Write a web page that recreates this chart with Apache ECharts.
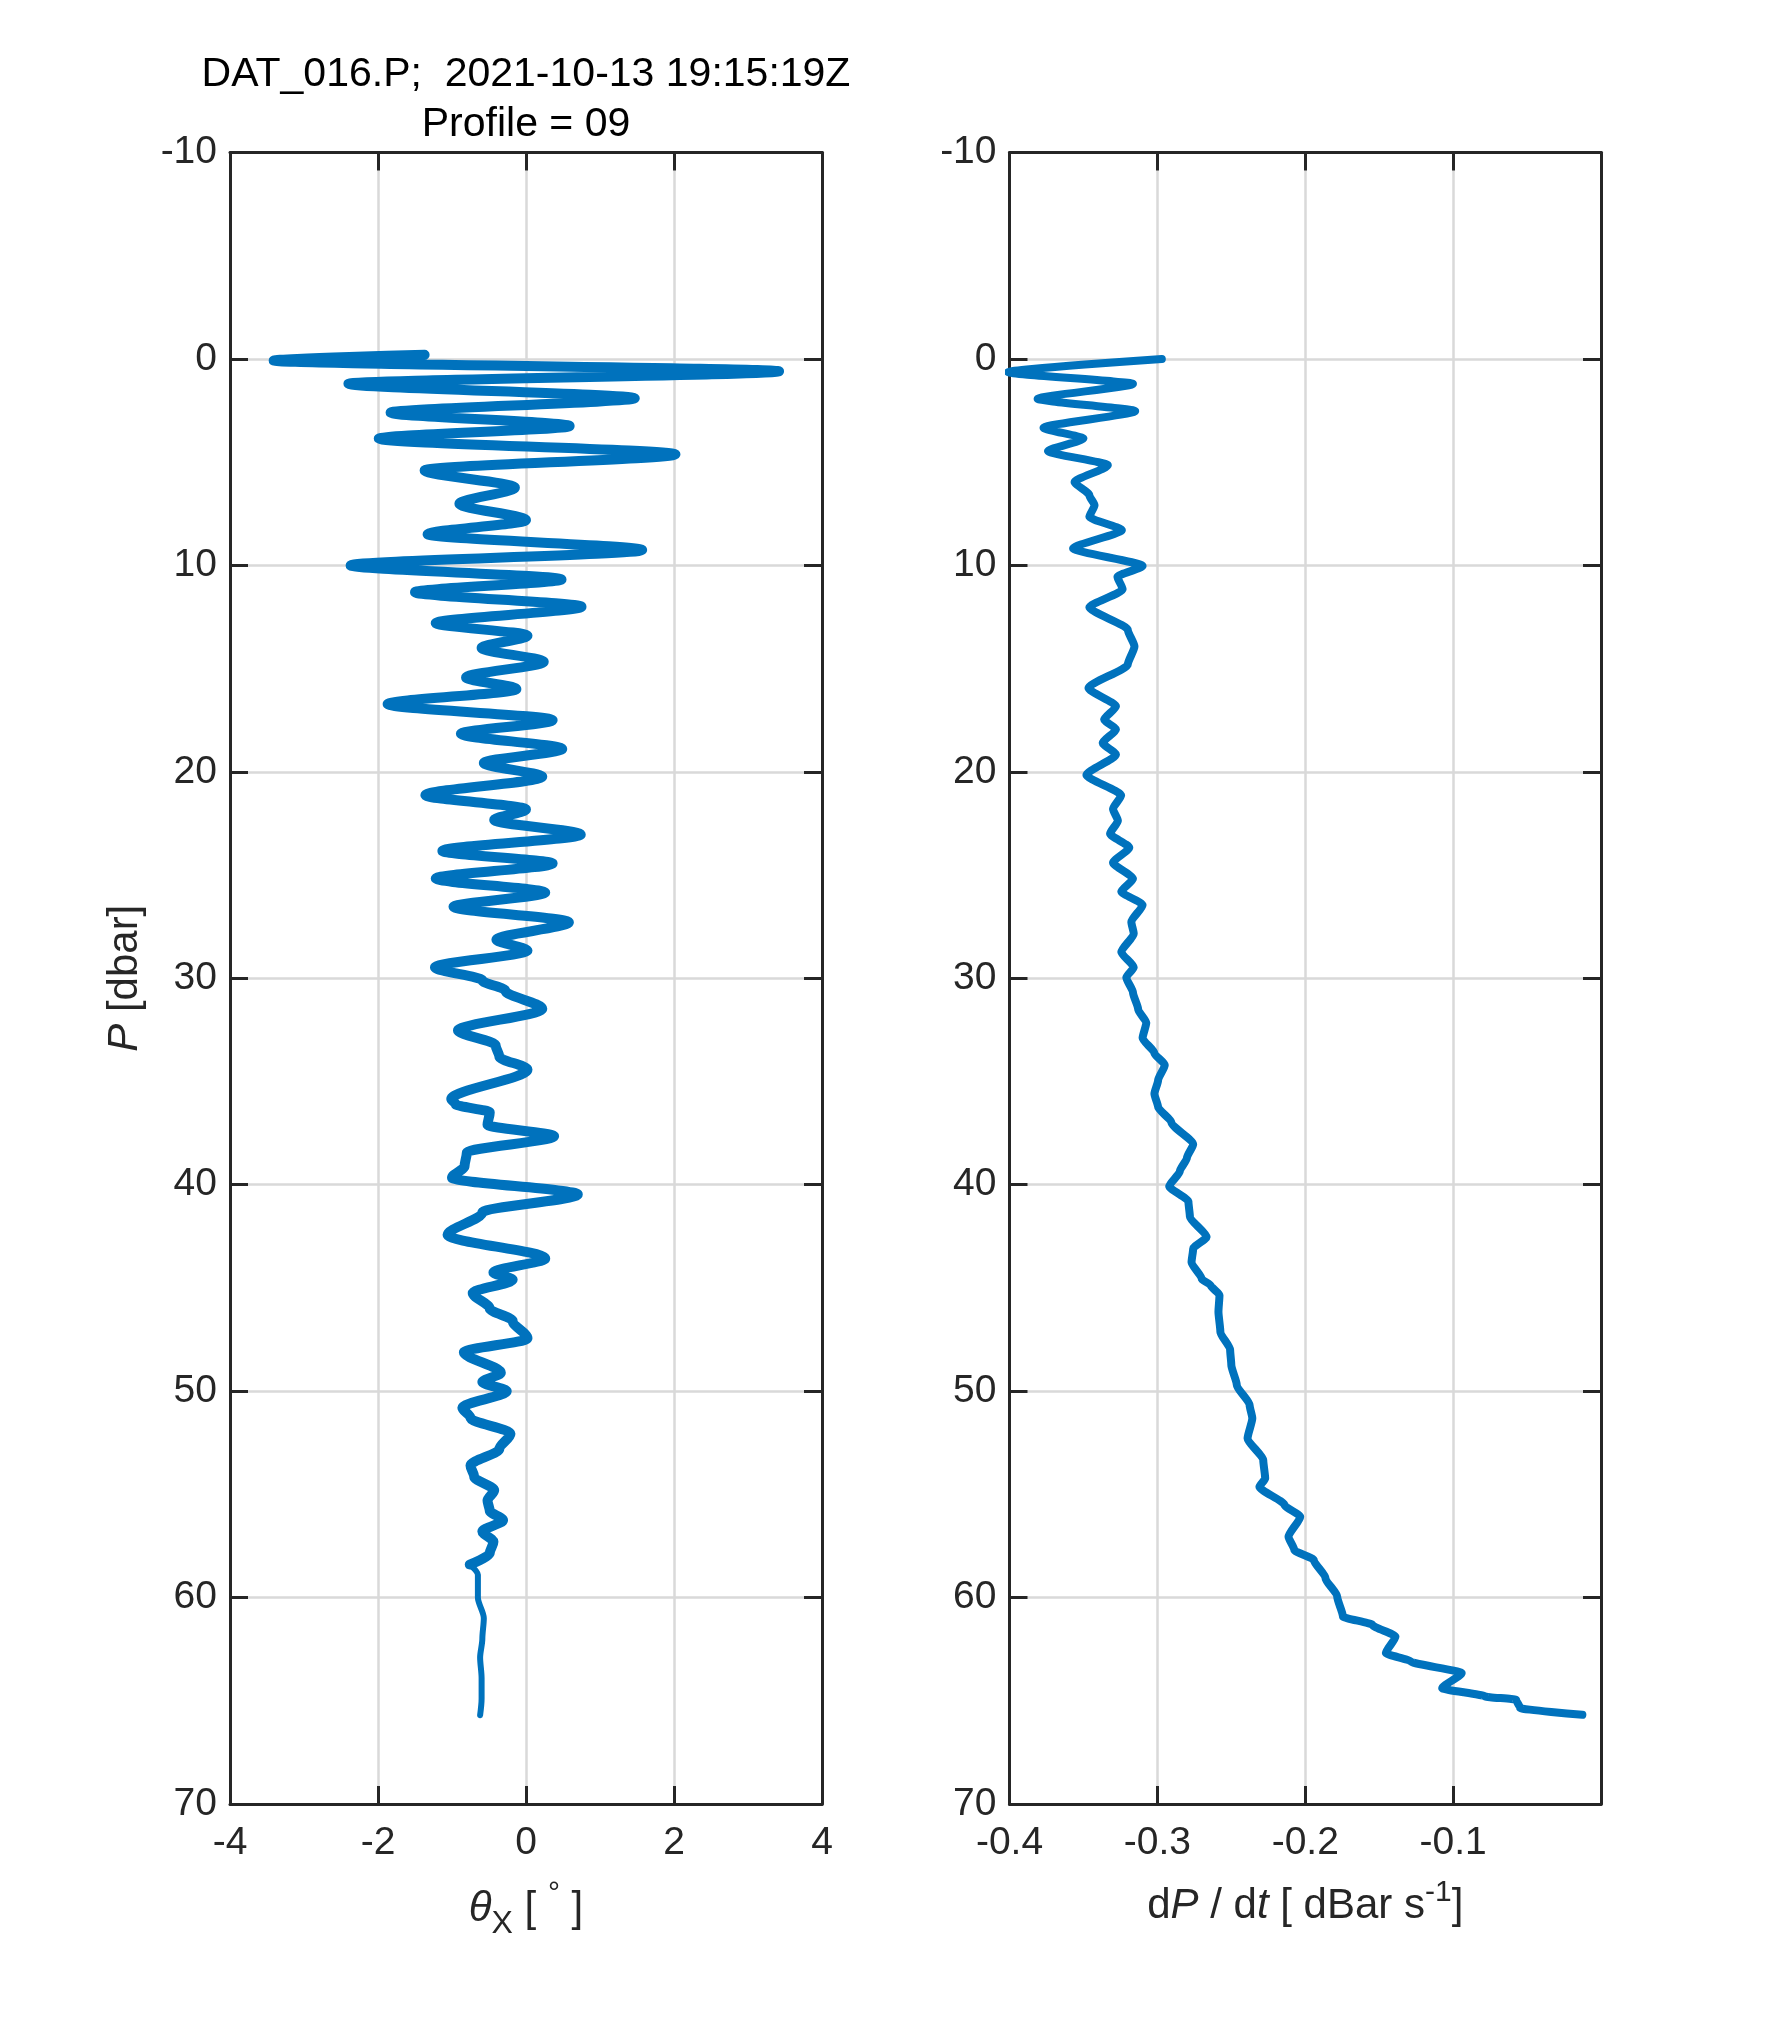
<!DOCTYPE html>
<html>
<head>
<meta charset="utf-8">
<script src="https://cdn.jsdelivr.net/npm/echarts@6/dist/echarts.min.js"></script>
<style>
html,body{margin:0;padding:0;background:#fff;}
#chart{width:1772px;height:2029px;}
</style>
</head>
<body>
<div id="chart"></div>
<script>
// ---- Data ----
const titleLines = ['DAT_016.P;  2021-10-13 19:15:19Z', 'Profile = 09'];
const pressureTicks = [-10, 0, 10, 20, 30, 40, 50, 60, 70];
const thetaTicks = [-4, -2, 0, 2, 4];
const dpdtTicks = [-0.4, -0.3, -0.2, -0.1];

// Left panel: theta_X [deg] vs P [dbar]
const thetaPressure = [-0.2,0.08,0.6,1.2,1.9,2.6,3.25,3.86,4.62,5.4,6.23,7.02,7.81,8.49,9.26,10.0,10.68,11.3,12.0,12.8,13.4,14.0,14.67,15.43,15.99,16.72,17.5,18.16,18.89,19.57,20.24,21.13,21.82,22.33,23.04,23.83,24.44,25.17,25.85,26.54,27.29,28.13,28.66,29.47,30.11,30.6,31.48,32.53,33.25,33.8,34.42,35.85,36.1,36.5,37.1,37.65,38.45,39.1,39.66,40.47,41.35,42.43,43.57,44.25,44.6,45.25,46.0,46.6,47.44,48.12,49.11,49.56,50.0,50.8,51.3,52.06,52.8,53.6,54.15,54.8,55.3,55.8,56.25,56.8,57.3,57.85,58.4,58.9,60.0,61.0,62.0,62.9,63.9,64.9,65.7];
const thetaValues = [-1.37,-3.41,3.42,-2.40,1.47,-1.83,0.59,-1.99,2.02,-1.37,-0.15,-0.90,0.0,-1.33,1.57,-2.37,0.48,-1.50,0.75,-1.22,0.02,-0.60,0.24,-0.81,-0.13,-1.87,0.36,-0.88,0.49,-0.57,0.22,-1.36,0.0,-0.43,0.74,-1.13,0.36,-1.22,0.26,-0.98,0.58,-0.40,0.02,-1.23,-0.59,-0.28,0.22,-0.92,-0.41,-0.36,0.02,-1.01,-0.95,-0.49,-0.52,0.38,-0.80,-0.83,-1.0,0.70,-0.59,-1.06,0.26,-0.44,-0.18,-0.72,-0.49,-0.18,0.02,-0.84,-0.34,-0.59,-0.26,-0.86,-0.75,-0.21,-0.36,-0.75,-0.70,-0.43,-0.52,-0.49,-0.31,-0.59,-0.44,-0.49,-0.76,-0.65,-0.65,-0.57,-0.59,-0.62,-0.60,-0.60,-0.62];

// Right panel: dP/dt [dBar s^-1] vs P [dbar]
const dpdtPressure = [0.0,0.64,1.21,1.93,2.53,3.33,3.86,4.46,5.15,5.96,6.6,7.09,7.65,8.29,9.18,10.03,10.55,11.16,12.03,13.12,13.93,14.8,15.94,16.83,17.47,17.95,18.6,19.16,20.15,21.14,21.8,22.37,23.0,23.67,24.4,25.18,25.8,26.45,27.27,27.84,28.73,29.47,29.96,30.69,31.5,32.16,32.9,33.63,34.2,34.94,35.6,36.24,36.98,38.04,38.7,39.35,40.08,40.82,41.55,42.53,43.1,43.76,44.57,44.87,45.35,46.16,47.13,48.0,48.74,49.7,50.68,51.32,52.29,53.34,54.23,54.63,55.52,56.08,57.05,57.7,58.18,59.06,59.95,60.92,61.32,61.89,62.69,63.1,63.66,64.39,64.79,64.95,65.35,65.68];
const dpdtValues = [-0.297,-0.401,-0.3165,-0.381,-0.315,-0.377,-0.350,-0.374,-0.3335,-0.356,-0.346,-0.3425,-0.346,-0.324,-0.357,-0.310,-0.327,-0.3235,-0.346,-0.320,-0.3155,-0.320,-0.3466,-0.328,-0.336,-0.328,-0.337,-0.328,-0.348,-0.3245,-0.330,-0.3267,-0.332,-0.319,-0.330,-0.3165,-0.3244,-0.310,-0.3176,-0.316,-0.3244,-0.316,-0.321,-0.3165,-0.313,-0.3075,-0.310,-0.302,-0.295,-0.2995,-0.302,-0.2995,-0.2905,-0.2758,-0.280,-0.2848,-0.292,-0.279,-0.278,-0.2667,-0.2758,-0.2769,-0.270,-0.264,-0.258,-0.2587,-0.2574,-0.2508,-0.250,-0.2463,-0.2376,-0.2358,-0.239,-0.2284,-0.2271,-0.231,-0.214,-0.2034,-0.2113,-0.2074,-0.1942,-0.1863,-0.1784,-0.1745,-0.1547,-0.139,-0.1455,-0.1284,-0.0942,-0.1074,-0.0784,-0.0574,-0.0547,-0.0126];

// ---- Chart ----
const FONT = '"Liberation Sans", Arial, Helvetica, sans-serif';
const FRAME = '#262626';
const BLUE = '#0072BD';
const TICK_FS = 39, LABEL_FS = 42, TITLE_FS = 41;

const thetaPts = thetaPressure.map((p, i) => [thetaValues[i], p]);
const tailStart = thetaPressure.indexOf(58.4);
const thetaMain = thetaPts.slice(0, tailStart + 1);
const thetaTail = thetaPts.slice(tailStart);
const dpdtPts = dpdtPressure.map((p, i) => [dpdtValues[i], p]);

const grids = [
  {left: 230, top: 152.5, width: 592, height: 1651.5},
  {left: 1009.5, top: 152.5, width: 591.5, height: 1651.5}
];

function frameAxisX(gridIndex, pos, min, max, interval, showLabel, fmt) {
  return {
    type: 'value', gridIndex, position: pos, min, max, interval,
    axisLine: {show: true, onZero: false, lineStyle: {color: FRAME, width: 3}},
    axisTick: {show: true, inside: true, length: 18, lineStyle: {color: FRAME, width: 3}},
    axisLabel: {show: showLabel, color: FRAME, fontSize: TICK_FS, fontFamily: FONT, margin: 20,
      formatter: fmt, showMaxLabel: true, showMinLabel: true},
    splitLine: {show: pos === 'bottom', lineStyle: {color: '#d9d9d9', width: 2.5}},
    nameLocation: 'middle', nameGap: 74
  };
}

function frameAxisY(gridIndex, pos, showLabel) {
  return {
    type: 'value', gridIndex, position: pos,
    min: pressureTicks[0], max: pressureTicks[pressureTicks.length - 1], interval: 10, inverse: true,
    axisLine: {show: true, onZero: false, lineStyle: {color: FRAME, width: 3}},
    axisTick: {show: true, inside: true, length: 18, lineStyle: {color: FRAME, width: 3}},
    axisLabel: {show: showLabel, color: FRAME, fontSize: TICK_FS, fontFamily: FONT, margin: 13},
    splitLine: {show: pos === 'left', lineStyle: {color: '#d9d9d9', width: 2.5}}
  };
}

const leftX = frameAxisX(0, 'bottom', thetaTicks[0], thetaTicks[thetaTicks.length - 1], 2, true);
leftX.name = '{it|θ}{sub|X} [ {sup|°} ]';
leftX.nameTextStyle = {
  color: FRAME, fontSize: LABEL_FS, fontFamily: FONT,
  rich: {
    it: {fontStyle: 'italic', fontSize: LABEL_FS, fontFamily: FONT, color: FRAME},
    sub: {fontSize: 32, fontFamily: FONT, color: FRAME, padding: [30, 0, 0, 0]},
    sup: {fontSize: 30, fontFamily: FONT, color: FRAME, padding: [0, 0, 30, 0]}
  }
};
const rightX = frameAxisX(1, 'bottom', dpdtTicks[0], 0, 0.1, true,
  v => (Math.abs(v) < 1e-9 ? '' : v.toFixed(1)));
rightX.name = 'd{it|P} / d{it|t} [ dBar s{sup|-1}]';
rightX.nameTextStyle = {
  color: FRAME, fontSize: LABEL_FS, fontFamily: FONT,
  rich: {
    it: {fontStyle: 'italic', fontSize: LABEL_FS, fontFamily: FONT, color: FRAME},
    sup: {fontSize: 30, fontFamily: FONT, color: FRAME, padding: [0, 0, 26, 0]}
  }
};

const leftY = frameAxisY(0, 'left', true);
leftY.name = '{it|P} [dbar]';
leftY.nameLocation = 'middle';
leftY.nameGap = 84;
leftY.nameRotate = 90;
leftY.nameTextStyle = {
  color: FRAME, fontSize: LABEL_FS, fontFamily: FONT,
  rich: {it: {fontStyle: 'italic', fontSize: LABEL_FS, fontFamily: FONT, color: FRAME}}
};

const option = {
  backgroundColor: '#ffffff',
  animation: false,
  grid: grids,
  xAxis: [
    leftX,
    frameAxisX(0, 'top', thetaTicks[0], thetaTicks[thetaTicks.length - 1], 2, false),
    rightX,
    frameAxisX(1, 'top', dpdtTicks[0], 0, 0.1, false)
  ],
  yAxis: [
    leftY,
    frameAxisY(0, 'right', false),
    frameAxisY(1, 'left', true),
    frameAxisY(1, 'right', false)
  ],
  graphic: [
    {type: 'text', x: 526, y: 75, style: {text: titleLines[0], fill: '#000', font: TITLE_FS + 'px ' + FONT, align: 'center', verticalAlign: 'middle'}},
    {type: 'text', x: 526, y: 125, style: {text: titleLines[1], fill: '#000', font: TITLE_FS + 'px ' + FONT, align: 'center', verticalAlign: 'middle'}}
  ],
  series: [
    {type: 'line', xAxisIndex: 0, yAxisIndex: 0, data: thetaMain, showSymbol: false, clip: true,
      smooth: 0.3, smoothMonotone: 'y',
      lineStyle: {color: BLUE, width: 10, cap: 'round', join: 'round'}},
    {type: 'line', xAxisIndex: 0, yAxisIndex: 0, data: thetaTail, showSymbol: false, clip: true,
      smooth: 0.3, smoothMonotone: 'y',
      lineStyle: {color: BLUE, width: 6, cap: 'round', join: 'round'}},
    {type: 'line', xAxisIndex: 2, yAxisIndex: 2, data: dpdtPts, showSymbol: false, clip: true,
      smooth: 0.2, smoothMonotone: 'y',
      lineStyle: {color: BLUE, width: 8, cap: 'round', join: 'round'}}
  ]
};

const chart = echarts.init(document.getElementById('chart'), null, {renderer: 'canvas'});
chart.setOption(option);
</script>
</body>
</html>
